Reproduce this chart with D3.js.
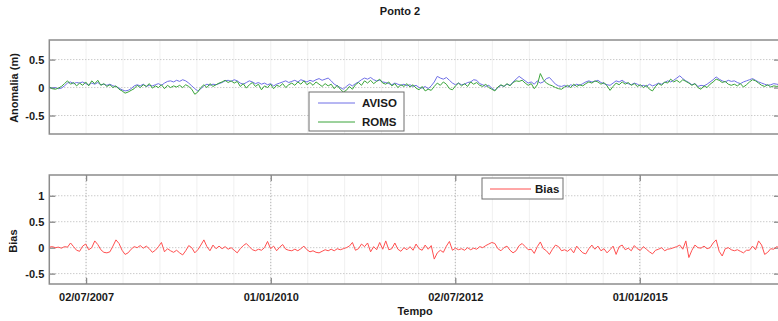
<!DOCTYPE html>
<html>
<head>
<meta charset="utf-8">
<script src="https://cdn.jsdelivr.net/npm/d3@7"></script>
<style>
html,body{margin:0;padding:0;background:#fff;}
svg{display:block;font-family:"Liberation Sans",Arial,Helvetica,sans-serif;}
</style>
</head>
<body>
<svg id="chart" width="778" height="321"></svg>
<script>
// ---- data ----
const dataStart = "2007-01-01";
const stepDays = 15;
const aviso = [
0,-0.01,0.0,-0.02,-0.01,0.03,
0.08,0.1,0.07,0.09,0.08,
0.1,0.07,0.05,0.08,0.06,
0.09,0.05,0.06,0.04,0.06,
0.03,0.02,-0.01,-0.04,-0.06,
-0.05,-0.02,0.03,0.05,0.03,
0.06,0.02,0.04,0.03,0.05,
0.07,0.04,0.08,0.11,0.12,
0.1,0.13,0.11,0.14,0.12,
0.08,0.03,-0.02,-0.06,-0.02,
0.03,0.06,0.04,0.06,0.05,
0.07,0.09,0.12,0.13,0.11,
0.14,0.12,0.08,0.06,0.09,
0.12,0.1,0.07,0.09,0.06,
0.08,0.05,0.07,0.03,0.06,
0.08,0.1,0.12,0.09,0.11,
0.13,0.1,0.14,0.12,0.1,
0.13,0.11,0.14,0.16,0.13,
0.15,0.17,0.12,0.06,0.03,
0.0,-0.03,0.02,0.06,0.03,
0.07,0.1,0.14,0.17,0.15,
0.18,0.14,0.12,0.13,0.1,
0.09,0.07,0.05,0.08,0.06,
0.04,0.06,0.03,0.05,0.02,
0.04,0.0,-0.01,0.02,-0.02,
0.03,0.1,0.2,0.17,0.15,
0.18,0.13,0.08,0.05,0.08,
0.05,0.06,0.09,0.1,0.14,
0.13,0.07,0.05,0.02,0.04,
-0.01,-0.05,0.0,0.04,0.02,
0.06,0.04,0.1,0.15,0.2,
0.16,0.12,0.08,0.1,0.06,
0.12,0.08,0.1,0.16,0.18,
0.12,0.06,0.03,0.02,0.04,
0.01,0.05,0.03,0.06,0.04,
0.07,0.1,0.12,0.1,0.11,
0.13,0.09,0.07,0.05,0.04,
0.08,0.12,0.1,0.13,0.09,
0.07,0.05,0.08,0.06,0.03,
0.04,0.02,0.06,0.03,0.05,
0.08,0.06,0.09,0.12,0.1,
0.13,0.17,0.21,0.16,0.12,
0.09,0.05,0.07,0.02,0.04,
0.03,0.06,0.1,0.14,0.19,
0.15,0.12,0.1,0.13,0.11,
0.12,0.09,0.07,0.1,0.12,
0.14,0.16,0.13,0.1,0.08,
0.06,0.04,0.05,0.07,0.06,
0.05
];
const roms = [
0.01,-0.02,-0.03,-0.01,0.02,0.07,
0.12,0.06,0.09,0.03,0.08,
0.04,0.1,0.03,0.12,0.07,
0.13,0.04,0.07,0.02,0.05,
0.0,0.03,-0.03,-0.06,-0.1,
-0.08,-0.05,-0.02,0.04,0.0,
0.05,0.02,0.07,-0.01,0.03,
0.0,0.05,-0.02,0.04,0.0,
0.03,0.01,0.04,0.0,0.05,
0.02,-0.03,-0.12,-0.08,0.0,
0.05,0.0,0.07,0.02,0.05,
0.08,0.1,0.13,0.09,0.12,
0.08,0.11,0.02,0.07,-0.01,
0.05,0.09,0.02,0.06,-0.04,
0.03,0.0,0.06,-0.02,0.04,
0.02,0.07,0.0,0.05,0.08,
0.04,0.1,0.06,0.12,0.05,
0.09,0.04,0.1,0.06,0.02,
0.07,0.03,0.06,-0.02,0.04,
-0.03,-0.08,-0.05,0.02,-0.03,
0.05,0.09,0.04,0.12,0.08,
0.13,0.07,0.11,0.15,0.08,
0.06,0.1,0.03,0.07,0.0,
0.05,0.02,0.07,0.01,0.05,
-0.01,-0.04,0.02,-0.06,-0.03,
-0.05,0.02,0.08,0.04,0.1,
0.06,-0.02,-0.04,0.03,0.08,
0.03,0.07,0.02,0.1,0.06,
0.09,0.04,0.02,0.06,0.0,
-0.03,-0.06,0.01,0.05,0.02,
0.07,0.03,0.09,0.12,0.11,
0.13,0.08,0.04,0.07,-0.02,
0.05,0.25,0.14,0.08,0.05,
0.03,0.0,-0.02,-0.03,0.01,
0.04,0.0,0.06,0.02,0.05,
0.03,0.07,0.1,0.08,0.12,
0.1,0.06,0.09,0.03,-0.05,
0.02,0.08,0.05,0.1,0.06,
0.09,0.04,0.07,0.02,0.05,
0.0,0.04,-0.03,-0.06,0.02,
0.07,0.04,0.1,0.08,0.15,
0.1,0.13,0.09,0.14,0.11,
0.08,0.04,0.07,0.0,-0.03,
0.03,0.0,0.06,0.1,0.15,
0.13,0.09,0.11,0.06,0.04,
0.06,0.03,0.07,0.01,0.05,
0.1,0.14,0.12,0.08,0.04,
0.02,0.05,0.01,0.03,0.02,
0.03
];
const bias = [
0.01,0.02,0.0,0.01,-0.01,0.02,
0.01,0.09,0.02,-0.05,-0.07,
0.03,0.07,-0.04,0.0,0.13,
0.06,-0.04,-0.09,-0.1,-0.08,
0.03,0.15,0.08,-0.05,-0.13,
-0.1,-0.03,0.02,0.0,0.04,
-0.01,0.03,-0.02,-0.09,-0.05,
0.02,0.1,-0.08,-0.02,-0.06,
-0.09,-0.05,-0.1,-0.14,-0.06,
0.04,0.0,-0.1,-0.04,0.05,
0.15,0.02,-0.06,0.05,-0.02,
0.03,-0.02,0.02,-0.03,0.0,
-0.05,-0.1,-0.02,0.04,0.08,
0.02,-0.04,-0.06,-0.03,-0.05,
0.0,0.12,-0.02,0.03,-0.06,
0.01,0.06,-0.03,-0.05,-0.06,
-0.03,-0.06,-0.02,0.03,-0.04,
-0.08,-0.06,-0.09,-0.1,-0.07,
-0.04,-0.06,-0.03,-0.06,-0.02,
-0.04,-0.02,0.0,0.03,0.1,
-0.05,-0.02,0.07,0.02,0.09,
-0.08,0.02,-0.04,0.1,-0.03,
0.13,-0.04,-0.02,0.09,-0.03,
-0.07,0.0,-0.04,0.02,-0.05,
0.07,-0.02,-0.05,0.05,-0.03,
0.04,-0.22,-0.1,-0.05,-0.09,
0.03,0.12,-0.05,-0.01,-0.04,
-0.02,-0.05,0.0,-0.04,-0.01,
-0.03,0.02,0.0,0.04,0.07,
0.1,0.08,-0.02,-0.06,0.0,
0.03,-0.05,-0.1,-0.06,0.04,
0.08,0.02,-0.04,-0.03,-0.11,
0.02,0.11,-0.02,-0.06,-0.13,
-0.03,0.05,0.02,-0.06,-0.04,
-0.07,-0.02,-0.1,0.03,-0.04,
-0.1,-0.12,-0.02,0.05,-0.03,
0.03,-0.06,-0.02,-0.1,-0.04,
0.03,-0.13,0.02,0.05,-0.04,
-0.01,-0.06,0.04,-0.02,-0.05,
0.02,-0.03,-0.08,-0.12,-0.05,
-0.03,0.0,-0.06,-0.03,-0.02,
0.0,0.02,0.05,-0.03,0.13,
-0.19,-0.05,0.05,0.0,-0.01,
0.03,-0.02,0.0,0.09,0.15,
-0.07,-0.16,-0.02,0.0,-0.04,
-0.06,-0.04,-0.07,-0.1,-0.05,
-0.05,0.03,-0.04,0.13,0.05,
-0.13,-0.09,-0.02,-0.03,0.02,
-0.01
];
const xDomain = ["2007-01-01", "2016-11-25"];
const xTickDates = ["2007-07-02", "2010-01-01", "2012-07-02", "2015-01-01"];
const xTickLabels = ["02/07/2007", "01/01/2010", "02/07/2012", "01/01/2015"];
const topYDomain = [-0.83, 0.85];
const topYTicks = [-0.5, 0, 0.5];
const topYTickLabels = ["-0.5", "0", "0.5"];
const botYDomain = [-0.7, 1.4];
const botYTicks = [-0.5, 0, 0.5, 1];
const botYTickLabels = ["-0.5", "0", "0.5", "1"];
const seriesNames = ["AVISO", "ROMS", "Bias"];
const seriesColors = ["#6f6fe6", "#3aa43a", "#ff4f4f"];

// ---- drawing ----
const parse = s => new Date(s + "T00:00:00Z");
const t0 = parse(dataStart).getTime();
const dateAt = i => new Date(t0 + i * stepDays * 864e5);

const svg = d3.select("#chart");
const L = 49.3, R = 780;
const topBox = {t: 40, b: 134};
const botBox = {t: 175, b: 284};

const x = d3.scaleUtc().domain(xDomain.map(parse)).range([L, R]);
const yTop = d3.scaleLinear().domain(topYDomain).range([topBox.b, topBox.t]);
const yBot = d3.scaleLinear().domain(botYDomain).range([botBox.b, botBox.t]);

const defs = svg.append("defs");
defs.append("clipPath").attr("id", "clipTop").append("rect")
  .attr("x", L).attr("y", topBox.t).attr("width", R - L).attr("height", topBox.b - topBox.t);
defs.append("clipPath").attr("id", "clipBot").append("rect")
  .attr("x", L).attr("y", botBox.t).attr("width", R - L).attr("height", botBox.b - botBox.t);

// minor vertical grid dates (every quarter of major spacing)
const majorDates = xTickDates.map(parse);
const minorDates = [];
{
  const step = (majorDates[1] - majorDates[0]) / 5;
  const dom = x.domain();
  for (let t = majorDates[0].getTime() - 5 * step; t < dom[1].getTime(); t += step) {
    if (t > dom[0].getTime() + 1) minorDates.push(new Date(t));
  }
}

function panel(box, y, yTicks, yLabels, showMajorX, clipId) {
  const g = svg.append("g");
  // minor vertical grid
  g.selectAll(".mgrid").data(minorDates).enter().append("line")
    .attr("x1", d => x(d)).attr("x2", d => x(d))
    .attr("y1", box.t).attr("y2", box.b)
    .attr("stroke", "#ececec").attr("stroke-width", 0.8);
  // horizontal grid
  g.selectAll(".hgrid").data(yTicks).enter().append("line")
    .attr("x1", L).attr("x2", R)
    .attr("y1", d => y(d)).attr("y2", d => y(d))
    .attr("stroke", "#b4b4b4").attr("stroke-width", 1)
    .attr("stroke-dasharray", "1,2");
  if (showMajorX) {
    g.selectAll(".vgrid").data(majorDates).enter().append("line")
      .attr("x1", d => x(d)).attr("x2", d => x(d))
      .attr("y1", box.t).attr("y2", box.b)
      .attr("stroke", "#b4b4b4").attr("stroke-width", 1)
      .attr("stroke-dasharray", "1,2");
  }
  // y axis left
  const ay = d3.axisLeft(y).tickValues(yTicks).tickSize(-6).tickPadding(5)
    .tickFormat((d, i) => yLabels[i]);
  const gy = g.append("g").attr("transform", `translate(${L},0)`).call(ay);
  gy.select(".domain").remove();
  gy.selectAll(".tick line").attr("stroke", "#888").attr("stroke-width", 1.3);
  gy.selectAll(".tick text").attr("fill", "#1a1a1a").style("font-size", "11px")
    .style("font-weight", "bold").attr("dy", "0.35em");
  // y axis right ticks
  const ayr = d3.axisRight(y).tickValues(yTicks).tickSize(-6).tickFormat("");
  const gyr = g.append("g").attr("transform", `translate(${R},0)`).call(ayr);
  gyr.select(".domain").remove();
  gyr.selectAll(".tick line").attr("stroke", "#888").attr("stroke-width", 1.3);
  if (showMajorX) {
    const axb = d3.axisBottom(x).tickValues(majorDates).tickSize(-6).tickPadding(9)
      .tickFormat((d, i) => xTickLabels[i]);
    const gxb = g.append("g").attr("transform", `translate(0,${box.b})`).call(axb);
    gxb.select(".domain").remove();
    gxb.selectAll(".tick line").attr("stroke", "#888").attr("stroke-width", 1.3);
    gxb.selectAll(".tick text").attr("fill", "#1a1a1a").style("font-size", "11px")
      .style("font-weight", "bold");
    const axt = d3.axisTop(x).tickValues(majorDates).tickSize(-6).tickFormat("");
    const gxt = g.append("g").attr("transform", `translate(0,${box.t})`).call(axt);
    gxt.select(".domain").remove();
    gxt.selectAll(".tick line").attr("stroke", "#888").attr("stroke-width", 1.3);
  }
  // frame
  g.append("rect").attr("x", L).attr("y", box.t)
    .attr("width", R - L).attr("height", box.b - box.t)
    .attr("fill", "none").attr("stroke", "#8c8c8c").attr("stroke-width", 1.5);
  const plot = svg.append("g").attr("clip-path", `url(#${clipId})`);
  return plot;
}

const pTop = panel(topBox, yTop, topYTicks, topYTickLabels, false, "clipTop");
const pBot = panel(botBox, yBot, botYTicks, botYTickLabels, true, "clipBot");

const lineTop = d3.line().x((d, i) => x(dateAt(i))).y(d => yTop(d));
const lineBot = d3.line().x((d, i) => x(dateAt(i))).y(d => yBot(d));

pTop.append("path").datum(aviso).attr("d", lineTop)
  .attr("fill", "none").attr("stroke", seriesColors[0]).attr("stroke-width", 1);
pTop.append("path").datum(roms).attr("d", lineTop)
  .attr("fill", "none").attr("stroke", seriesColors[1]).attr("stroke-width", 1);
pBot.append("path").datum(bias).attr("d", lineBot)
  .attr("fill", "none").attr("stroke", seriesColors[2]).attr("stroke-width", 1);

// legends
function legend(x0, y0, w, h, items) {
  const g = svg.append("g");
  g.append("rect").attr("x", x0).attr("y", y0).attr("width", w).attr("height", h)
    .attr("fill", "#fff").attr("stroke", "#6e6e6e").attr("stroke-width", 1);
  items.forEach(it => {
    g.append("line").attr("x1", it.lx1).attr("x2", it.lx2).attr("y1", it.ly).attr("y2", it.ly)
      .attr("stroke", it.color).attr("stroke-width", 1);
    g.append("text").attr("x", it.tx).attr("y", it.ly).attr("dy", "0.36em")
      .attr("fill", "#1a1a1a").style("font-size", "11.5px").style("font-weight", "bold")
      .text(it.name);
  });
}
legend(309, 92, 95, 39, [
  {name: seriesNames[0], color: seriesColors[0], lx1: 318, lx2: 355, ly: 103, tx: 362},
  {name: seriesNames[1], color: seriesColors[1], lx1: 318, lx2: 355, ly: 122, tx: 362}
]);
legend(482, 178, 81, 21, [
  {name: seriesNames[2], color: seriesColors[2], lx1: 490, lx2: 531, ly: 189, tx: 535}
]);

// titles & labels
svg.append("text").attr("x", 400).attr("y", 15).attr("text-anchor", "middle")
  .attr("fill", "#1a1a1a").style("font-size", "11px").style("font-weight", "bold").text("Ponto 2");
svg.append("text").attr("transform", "translate(18,88) rotate(-90)").attr("text-anchor", "middle")
  .attr("fill", "#1a1a1a").style("font-size", "11px").style("font-weight", "bold").text("Anomalia (m)");
svg.append("text").attr("transform", "translate(17,241) rotate(-90)").attr("text-anchor", "middle")
  .attr("fill", "#1a1a1a").style("font-size", "11px").style("font-weight", "bold").text("Bias");
svg.append("text").attr("x", 415).attr("y", 315).attr("text-anchor", "middle")
  .attr("fill", "#1a1a1a").style("font-size", "11px").style("font-weight", "bold").text("Tempo");
</script>
</body>
</html>
